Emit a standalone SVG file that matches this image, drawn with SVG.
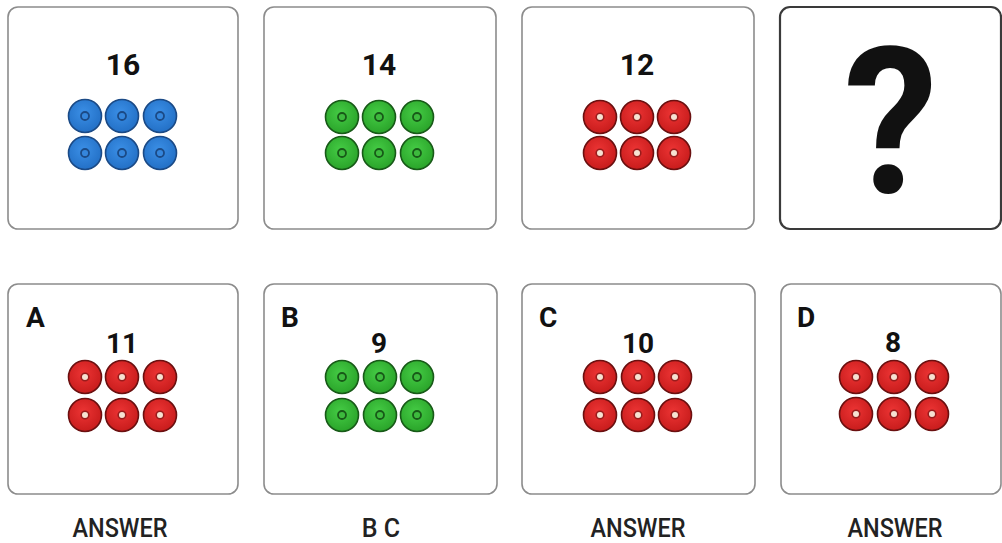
<svg xmlns="http://www.w3.org/2000/svg" width="1002" height="543" viewBox="0 0 1002 543">
<style>
.box{fill:#fff;stroke:#8c8c8c;stroke-width:1.6}
.qbox{fill:#fff;stroke:#3a3a3a;stroke-width:2.2}
.num{font-family:Roboto,"Liberation Sans",sans-serif;font-weight:700;fill:#111;text-anchor:middle}
.top{font-size:30px}
.bot{font-size:28px}
.let{font-family:Roboto,"Liberation Sans",sans-serif;font-weight:700;font-size:28px;fill:#111}
.ans{font-family:Roboto,"Liberation Sans",sans-serif;font-weight:500;font-size:25px;fill:#222;text-anchor:middle}
</style>
<defs>
<radialGradient id="gb" cx="0.45" cy="0.4" r="0.6"><stop offset="0" stop-color="#3b8fe6"/><stop offset="1" stop-color="#2370c6"/></radialGradient>
<radialGradient id="gg" cx="0.45" cy="0.4" r="0.6"><stop offset="0" stop-color="#45cc45"/><stop offset="1" stop-color="#2aa42a"/></radialGradient>
<radialGradient id="gr" cx="0.45" cy="0.4" r="0.6"><stop offset="0" stop-color="#ec3434"/><stop offset="1" stop-color="#c81c1c"/></radialGradient>
<g id="db"><circle r="16.5" fill="url(#gb)" stroke="#1b4a86" stroke-width="1.6"/><circle r="4" fill="#3586dc" stroke="#1b4a86" stroke-width="1.8"/></g>
<g id="dg"><circle r="16.5" fill="url(#gg)" stroke="#185a18" stroke-width="1.6"/><circle r="4" fill="#3dba3d" stroke="#185a18" stroke-width="1.8"/></g>
<g id="dr"><circle r="16.5" fill="url(#gr)" stroke="#6a1010" stroke-width="1.6"/><circle r="3.8" fill="#f6e2d2" stroke="#9a1c1c" stroke-width="1.6"/></g>
</defs>

<g id="card-16">
<rect class="box" x="8" y="7" width="230" height="222" rx="10"/>
<text class="num top" x="123" y="75">16</text>
<use href="#db" x="85" y="116"/><use href="#db" x="122" y="116"/><use href="#db" x="160" y="116"/>
<use href="#db" x="85" y="153"/><use href="#db" x="122" y="153"/><use href="#db" x="160" y="153"/>
</g>

<g id="card-14">
<rect class="box" x="264" y="7" width="232" height="222" rx="10"/>
<text class="num top" x="379" y="75">14</text>
<use href="#dg" x="342" y="117"/><use href="#dg" x="379" y="117"/><use href="#dg" x="417" y="117"/>
<use href="#dg" x="342" y="153"/><use href="#dg" x="379" y="153"/><use href="#dg" x="417" y="153"/>
</g>

<g id="card-12">
<rect class="box" x="522" y="7" width="232" height="222" rx="10"/>
<text class="num top" x="637" y="75">12</text>
<use href="#dr" x="600" y="117"/><use href="#dr" x="637" y="117"/><use href="#dr" x="674" y="117"/>
<use href="#dr" x="600" y="153"/><use href="#dr" x="637" y="153"/><use href="#dr" x="674" y="153"/>
</g>

<g id="card-question">
<rect class="qbox" x="780" y="7" width="221" height="222" rx="10"/>
<text class="num" font-size="205" x="891" y="193" transform="translate(891,0) scale(0.92,1) translate(-891,0)">?</text>
</g>

<g id="option-a">
<rect class="box" x="8" y="284" width="230" height="210" rx="10"/>
<text class="let" x="26" y="327">A</text>
<text class="num bot" x="122" y="353">11</text>
<use href="#dr" x="85" y="377"/><use href="#dr" x="122" y="377"/><use href="#dr" x="160" y="377"/>
<use href="#dr" x="85" y="415"/><use href="#dr" x="122" y="415"/><use href="#dr" x="160" y="415"/>
<text class="ans" x="120" y="537" textLength="95" lengthAdjust="spacingAndGlyphs">ANSWER</text>
</g>

<g id="option-b">
<rect class="box" x="264" y="284" width="233" height="210" rx="10"/>
<text class="let" x="281" y="327">B</text>
<text class="num bot" x="379" y="353">9</text>
<use href="#dg" x="342" y="377"/><use href="#dg" x="380" y="377"/><use href="#dg" x="417" y="377"/>
<use href="#dg" x="342" y="415"/><use href="#dg" x="380" y="415"/><use href="#dg" x="417" y="415"/>
<text class="ans" x="381" y="537">B C</text>
</g>

<g id="option-c">
<rect class="box" x="522" y="284" width="233" height="210" rx="10"/>
<text class="let" x="539" y="327">C</text>
<text class="num bot" x="638" y="353">10</text>
<use href="#dr" x="600" y="377"/><use href="#dr" x="638" y="377"/><use href="#dr" x="675" y="377"/>
<use href="#dr" x="600" y="415"/><use href="#dr" x="638" y="415"/><use href="#dr" x="675" y="415"/>
<text class="ans" x="638" y="537" textLength="95" lengthAdjust="spacingAndGlyphs">ANSWER</text>
</g>

<g id="option-d">
<rect class="box" x="781" y="284" width="220" height="210" rx="10"/>
<text class="let" x="797" y="327">D</text>
<text class="num bot" x="893" y="352">8</text>
<use href="#dr" x="856" y="377"/><use href="#dr" x="894" y="377"/><use href="#dr" x="932" y="377"/>
<use href="#dr" x="856" y="414"/><use href="#dr" x="894" y="414"/><use href="#dr" x="932" y="414"/>
<text class="ans" x="895" y="537" textLength="95" lengthAdjust="spacingAndGlyphs">ANSWER</text>
</g>

<g id="connectors"/>
</svg>
